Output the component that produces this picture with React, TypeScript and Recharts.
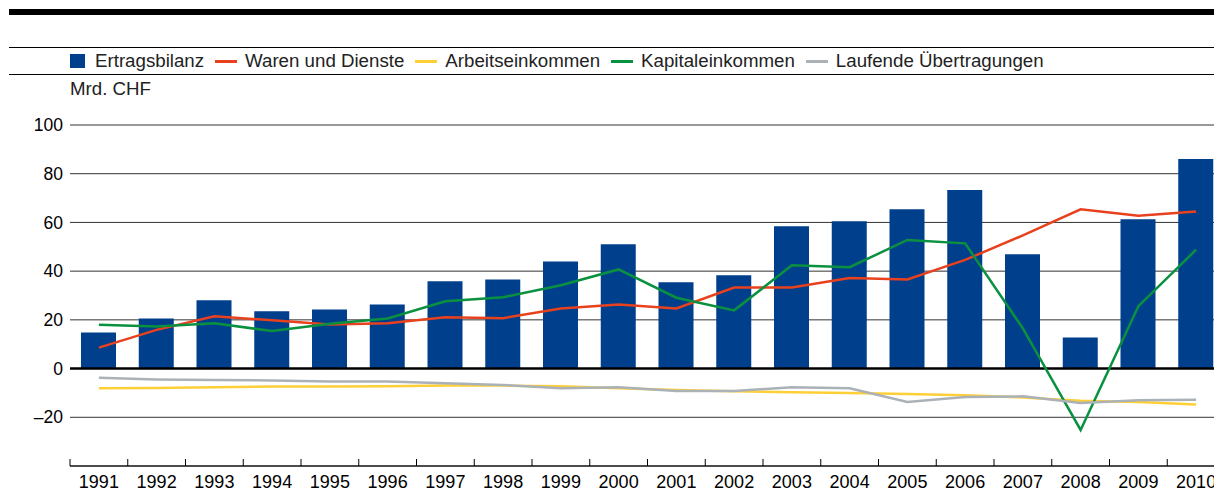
import { ComposedChart, Bar, Line, XAxis, YAxis, CartesianGrid, ReferenceLine } from "recharts"

const years = ["1991", "1992", "1993", "1994", "1995", "1996", "1997", "1998", "1999", "2000", "2001", "2002", "2003", "2004", "2005", "2006", "2007", "2008", "2009", "2010"]
const ertragsbilanz = [14.8, 20.6, 28.0, 23.5, 24.3, 26.3, 35.8, 36.6, 44.0, 51.0, 35.4, 38.3, 58.4, 60.5, 65.4, 73.3, 46.9, 12.8, 61.3, 86.0]
const warenDienste = [8.6, 15.9, 21.5, 19.8, 18.1, 18.6, 21.1, 20.7, 24.7, 26.3, 24.7, 33.3, 33.3, 37.2, 36.6, 44.6, 54.7, 65.4, 62.7, 64.5]
const arbeitseinkommen = [-8.1, -8.0, -7.7, -7.4, -7.4, -7.3, -7.0, -7.0, -7.3, -8.1, -8.8, -9.3, -9.7, -10.0, -10.4, -11.0, -11.9, -13.2, -13.7, -14.8]
const kapitaleinkommen = [18.0, 17.3, 18.6, 15.4, 18.4, 20.6, 27.6, 29.3, 34.2, 40.7, 29.1, 23.9, 42.4, 41.6, 52.8, 51.4, 16.5, -25.2, 25.6, 48.8]
const uebertragungen = [-3.8, -4.5, -4.7, -4.9, -5.3, -5.3, -6.0, -6.7, -8.1, -7.7, -9.2, -9.2, -7.7, -8.1, -13.7, -11.7, -11.4, -14.1, -13.0, -12.8]
const yTicks = [-20, 0, 20, 40, 60, 80, 100]

const data = years.map((year, i) => ({
  year,
  ertragsbilanz: ertragsbilanz[i],
  warenDienste: warenDienste[i],
  arbeitseinkommen: arbeitseinkommen[i],
  kapitaleinkommen: kapitaleinkommen[i],
  uebertragungen: uebertragungen[i],
}))

const BLUE = "#003f8c"
const lines = [
  { key: "warenDienste", name: "Waren und Dienste", color: "#e8411e" },
  { key: "arbeitseinkommen", name: "Arbeitseinkommen", color: "#ffcf38" },
  { key: "kapitaleinkommen", name: "Kapitaleinkommen", color: "#0a913f" },
  { key: "uebertragungen", name: "Laufende Übertragungen", color: "#aab2b8" },
]

const FONT = "'Liberation Sans', Arial, sans-serif"
const Y_AXIS_W = 70
const PLOT_W = 1155
const STEP = PLOT_W / years.length

const fmt = (v: number) => (v < 0 ? "\u2013" + Math.abs(v) : String(v))

function YearTick(props: any) {
  const { x, y, payload } = props
  const left = x - STEP / 2
  return (
    <g>
      <line x1={left} y1={y} x2={left} y2={y - 7} stroke="#000" strokeWidth={1} />
      <text x={x} y={y + 22} textAnchor="middle" fontSize={18} fontFamily={FONT} fill="#000">
        {payload.value}
      </text>
    </g>
  )
}

export default function App() {
  return (
    <div style={{ position: "absolute", left: 0, top: 0, width: 1214, height: 488, overflow: "hidden", background: "#fff", fontFamily: FONT }}>
      <div style={{ position: "absolute", left: 9, right: 0, top: 9, height: 6, background: "#000" }} />
      <div style={{ position: "absolute", left: 9, right: 0, top: 47, height: 1, background: "#000" }} />
      <div style={{ position: "absolute", left: 9, right: 0, top: 74, height: 1, background: "#000" }} />
      <div style={{ position: "absolute", left: 70, top: 50, height: 22, display: "flex", alignItems: "center", fontSize: 18.7, lineHeight: "22px", color: "#222", whiteSpace: "nowrap" }}>
        <span style={{ display: "inline-block", width: 15, height: 14, background: BLUE, marginRight: 10 }} />
        <span>Ertragsbilanz</span>
        {lines.map((l) => (
          <span key={l.key} style={{ display: "flex", alignItems: "center" }}>
            <span style={{ display: "inline-block", width: 22, height: 3, background: l.color, marginLeft: 11, marginRight: 8 }} />
            <span>{l.name}</span>
          </span>
        ))}
      </div>
      <div style={{ position: "absolute", left: 70, top: 78, fontSize: 18.7, lineHeight: "22px", color: "#222" }}>Mrd. CHF</div>
      <div style={{ position: "absolute", left: 0, top: 0 }}>
        <ComposedChart
          width={Y_AXIS_W + PLOT_W}
          height={500}
          data={data}
          margin={{ top: 125, right: 0, left: 0, bottom: 0 }}
          barCategoryGap={0}
        >
          <CartesianGrid vertical={false} stroke="#333" strokeWidth={1} />
          <XAxis
            dataKey="year"
            height={34}
            interval={0}
            axisLine={{ stroke: "#000", strokeWidth: 1 }}
            tickLine={false}
            tickSize={0}
            tickMargin={0}
            tick={<YearTick />}
          />
          <YAxis
            width={Y_AXIS_W}
            domain={[-40, 100]}
            ticks={yTicks}
            interval={0}
            allowDataOverflow
            axisLine={false}
            tickLine={false}
            tickSize={0}
            tickMargin={7}
            tickFormatter={fmt}
            tick={{ fontSize: 17.5, fontFamily: FONT, fill: "#000" }}
          />
          <Bar dataKey="ertragsbilanz" name="Ertragsbilanz" fill={BLUE} barSize={35} isAnimationActive={false} />
          <ReferenceLine y={0} stroke="#000" strokeWidth={2.5} />
          {lines.map((l) => (
            <Line
              key={l.key}
              type="linear"
              dataKey={l.key}
              name={l.name}
              stroke={l.color}
              strokeWidth={2.5}
              dot={false}
              activeDot={false}
              isAnimationActive={false}
            />
          ))}
        </ComposedChart>
      </div>
    </div>
  )
}
